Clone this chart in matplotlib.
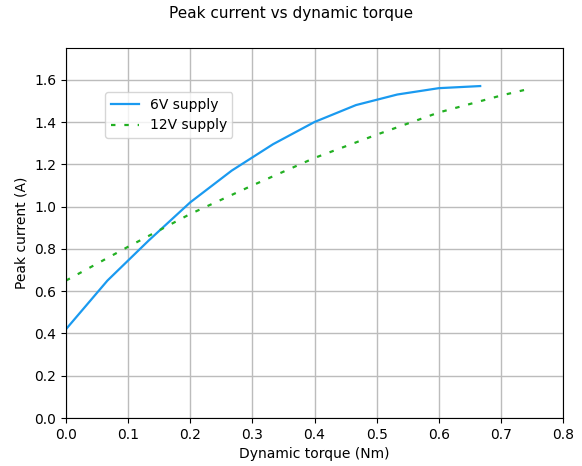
import matplotlib
matplotlib.use("Agg")
import matplotlib.pyplot as plt

torque_6v = [0.0, 0.0667, 0.1333, 0.2, 0.2667, 0.3333, 0.4, 0.4667, 0.5333, 0.6, 0.6667]
current_6v = [0.42, 0.65, 0.84, 1.02, 1.17, 1.295, 1.40, 1.48, 1.53, 1.56, 1.57]

torque_12v = [0.0, 0.1, 0.2, 0.3, 0.4, 0.5, 0.6, 0.7, 0.75]
current_12v = [0.65, 0.81, 0.965, 1.10, 1.23, 1.34, 1.445, 1.525, 1.56]

fig = plt.figure(figsize=(5.82, 4.66), dpi=100)
ax = fig.add_axes([66/582, 48/466, 497/582, 370/466])
fig.suptitle("Peak current vs dynamic torque", fontsize=11, y=0.988)

ax.plot(torque_6v, current_6v, color="#1a9af0", lw=1.6, label="6V supply")
ax.plot(torque_12v, current_12v, color="#22b022", lw=1.6, ls=(0, (2, 4)), label="12V supply")

ax.set_xlim(0, 0.8)
ax.set_ylim(0, 1.75)
ax.set_yticks([0.0, 0.2, 0.4, 0.6, 0.8, 1.0, 1.2, 1.4, 1.6])
ax.grid(True, color="#bcbcbc", lw=1)
ax.set_xlabel("Dynamic torque (Nm)")
ax.set_ylabel("Peak current (A)")
ax.legend(loc="upper left", bbox_to_anchor=(0.065, 0.9), fontsize=10)

fig.savefig("out.png", dpi=100)
